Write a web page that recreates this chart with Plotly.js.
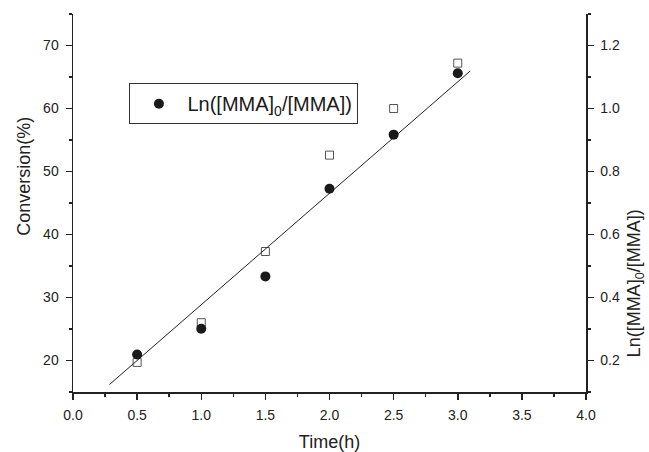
<!DOCTYPE html>
<html>
<head>
<meta charset="utf-8">
<script src="https://cdn.plot.ly/plotly-3.0.1.min.js"></script>
<style>html,body{margin:0;padding:0;background:#fff;}#chart{width:649px;height:452px;}</style>
</head>
<body>
<div id="chart"></div>
<script>
// Data
const timeH = [0.5, 1.0, 1.5, 2.0, 2.5, 3.0];
const conversion = [19.7, 26.0, 37.3, 52.6, 60.0, 67.2];
const lnRatio = [0.219, 0.301, 0.467, 0.745, 0.917, 1.112];
const fitTime = [0.285, 3.097];
const fitLn = [0.124, 1.119];
const xTickVals = [0, 0.5, 1, 1.5, 2, 2.5, 3, 3.5, 4];
const xTickText = ["0.0","0.5","1.0","1.5","2.0","2.5","3.0","3.5","4.0"];
const yTickVals = [20, 30, 40, 50, 60, 70];
const y2TickVals = [0.2, 0.4, 0.6, 0.8, 1.0, 1.2];
const y2TickText = ["0.2","0.4","0.6","0.8","1.0","1.2"];

const FONT = "Liberation Sans, Arial, sans-serif";
const AX = "#222222";

const traces = [
  {
    x: timeH, y: conversion, xaxis: "x", yaxis: "y",
    mode: "markers", type: "scatter", showlegend: false,
    name: "Conversion",
    marker: {symbol: "square-open", size: 8, color: "#555555", line: {width: 1, color: "#555555"}}
  },
  {
    x: fitTime, y: fitLn, xaxis: "x", yaxis: "y2",
    mode: "lines", type: "scatter", showlegend: false,
    name: "fit",
    line: {color: "#222222", width: 1}
  },
  {
    x: timeH, y: lnRatio, xaxis: "x", yaxis: "y2",
    mode: "markers", type: "scatter", showlegend: true,
    name: "Ln([MMA]<sub>0</sub>/[MMA])",
    marker: {symbol: "circle", size: 10, color: "#1a1a1a"}
  }
];

const layout = {
  width: 649, height: 452,
  margin: {l: 73, r: 63, t: 14, b: 60, pad: 0},
  paper_bgcolor: "#ffffff", plot_bgcolor: "#ffffff",
  font: {family: FONT, size: 14, color: AX},
  showlegend: true,
  legend: {
    x: 0.110, y: 0.817, xanchor: "left", yanchor: "top",
    bordercolor: "#333333", borderwidth: 1, bgcolor: "#ffffff",
    font: {family: FONT, size: 20, color: "#1a1a1a"},
    itemwidth: 47
  },
  xaxis: {
    range: [0, 4], tickvals: xTickVals, ticktext: xTickText,
    showgrid: false, zeroline: false, showline: true, linecolor: AX, linewidth: 1.5,
    ticks: "outside", ticklen: 6, tickwidth: 1.5, tickcolor: AX,
    ticklabelstandoff: 4,
    minor: {dtick: 0.25, ticks: "outside", ticklen: 3, tickwidth: 1.5, tickcolor: AX, showgrid: false},
    tickfont: {family: FONT, size: 14, color: AX},
    title: {text: "Time(h)", font: {family: FONT, size: 18, color: AX}, standoff: 14}
  },
  xaxis2: {
    range: [0, 4], overlaying: "x", side: "top", matches: "x",
    tickvals: xTickVals, showticklabels: false,
    showgrid: false, zeroline: false, showline: true, linecolor: AX, linewidth: 1.5,
    ticks: "inside", ticklen: 6, tickwidth: 1.5, tickcolor: AX,
    minor: {dtick: 0.25, ticks: "inside", ticklen: 3, tickwidth: 1.5, tickcolor: AX, showgrid: false}
  },
  yaxis: {
    range: [15, 75], tickvals: yTickVals,
    showgrid: false, zeroline: false, showline: true, linecolor: AX, linewidth: 1.5,
    ticks: "outside", ticklen: 6, tickwidth: 1.5, tickcolor: AX,
    ticklabelstandoff: 4,
    minor: {dtick: 5, tick0: 15, ticks: "outside", ticklen: 3, tickwidth: 1.5, tickcolor: AX, showgrid: false},
    tickfont: {family: FONT, size: 14, color: AX}
  },
  yaxis2: {
    range: [0.1, 1.3], overlaying: "y", side: "right",
    tickvals: y2TickVals, ticktext: y2TickText,
    showgrid: false, zeroline: false, showline: true, linecolor: AX, linewidth: 1.5,
    ticks: "outside", ticklen: 6, tickwidth: 1.5, tickcolor: AX,
    ticklabelstandoff: 4,
    minor: {dtick: 0.1, tick0: 0.1, ticks: "outside", ticklen: 3, tickwidth: 1.5, tickcolor: AX, showgrid: false},
    tickfont: {family: FONT, size: 14, color: AX}
  },
  annotations: [
    {
      text: "Conversion(%)", xref: "paper", yref: "paper", x: -0.097, y: 0.57,
      xanchor: "center", yanchor: "middle", textangle: -90, showarrow: false,
      font: {family: FONT, size: 18, color: AX}
    },
    {
      text: "Ln([MMA]<sub>0</sub>/[MMA])", xref: "paper", yref: "paper", x: 1.096, y: 0.288,
      xanchor: "center", yanchor: "middle", textangle: -90, showarrow: false,
      font: {family: FONT, size: 18, color: AX}
    }
  ]
};

Plotly.newPlot("chart", traces, layout, {displayModeBar: false, staticPlot: true});
</script>
</body>
</html>
